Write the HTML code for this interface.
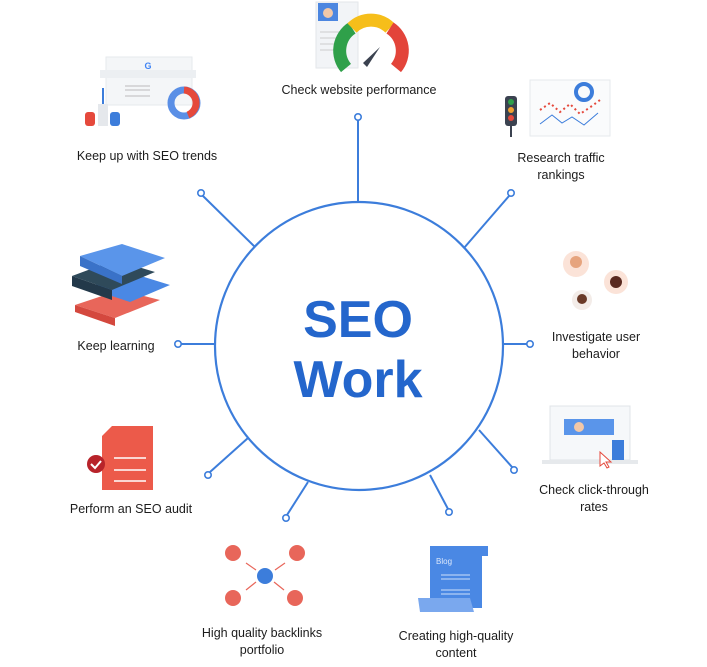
<!DOCTYPE html>
<html><head><meta charset="utf-8"><style>
body{margin:0;width:707px;height:667px;background:#fff;overflow:hidden;font-family:"Liberation Sans",sans-serif}
svg{position:absolute;left:0;top:0}
.t{font-size:12.5px;fill:#1c1c1c;text-anchor:middle}
</style></head><body>
<svg width="707" height="667" viewBox="0 0 707 667">
<g stroke="#3c7ddb" stroke-width="2" fill="none">
<circle cx="359" cy="346" r="144" stroke-width="2.2"/>
<line x1="358" y1="120" x2="358" y2="202"/>
<line x1="203" y1="196" x2="255" y2="247"/>
<line x1="509" y1="196" x2="464" y2="248"/>
<line x1="181" y1="344" x2="215" y2="344"/>
<line x1="503" y1="344" x2="527" y2="344"/>
<line x1="210" y1="472" x2="248" y2="438"/>
<line x1="512" y1="467" x2="479" y2="430"/>
<line x1="287" y1="515" x2="308" y2="482"/>
<line x1="448" y1="509" x2="430" y2="475"/>
</g>
<g stroke="#3c7ddb" stroke-width="1.6" fill="#fff">
<circle cx="358" cy="117" r="3.2"/><circle cx="201" cy="193" r="3.2"/><circle cx="511" cy="193" r="3.2"/>
<circle cx="178" cy="344" r="3.2"/><circle cx="530" cy="344" r="3.2"/><circle cx="208" cy="475" r="3.2"/>
<circle cx="514" cy="470" r="3.2"/><circle cx="286" cy="518" r="3.2"/><circle cx="449" cy="512" r="3.2"/>
</g>
<text x="358" y="337" text-anchor="middle" font-size="52" font-weight="bold" fill="#2466cc">SEO</text>
<text x="358" y="397" text-anchor="middle" font-size="52" font-weight="bold" fill="#2466cc">Work</text>

<!-- top gauge -->
<rect x="316" y="2" width="42" height="66" fill="#f2f4f7" stroke="#e3e6ea"/>
<rect x="318" y="3" width="20" height="18" fill="#4c86e0"/>
<circle cx="328" cy="13" r="5" fill="#f2c8a8"/>
<g stroke="#ccc"><line x1="320" y1="32" x2="340" y2="32"/><line x1="320" y1="38" x2="340" y2="38"/><line x1="320" y1="44" x2="340" y2="44"/><line x1="320" y1="50" x2="336" y2="50"/></g>
<path d="M346 68 A27 27 0 0 1 352 28" stroke="#2fa04a" stroke-width="13" fill="none"/>
<path d="M352 28 A27 27 0 0 1 390 28" stroke="#f6be1a" stroke-width="13" fill="none"/>
<path d="M390 28 A27 27 0 0 1 396 68" stroke="#e3443a" stroke-width="13" fill="none"/>
<path d="M363 63 L380 47 L367 67 Z" fill="#3b4250"/>
<text class="t" x="359" y="94">Check website performance</text>

<!-- SEO trends -->
<rect x="106" y="57" width="86" height="48" fill="#f4f6f8" stroke="#e6e9ec"/>
<rect x="100" y="70" width="96" height="8" fill="#eceff2"/>
<text x="148" y="69" font-size="9" font-weight="bold" fill="#4285f4" text-anchor="middle">G</text>
<g stroke="#bbb"><line x1="125" y1="86" x2="150" y2="86"/><line x1="125" y1="90" x2="150" y2="90"/><line x1="125" y1="96" x2="150" y2="96"/></g>
<circle cx="184" cy="103" r="13" fill="none" stroke="#5a8fe6" stroke-width="7"/>
<path d="M184 90 A13 13 0 0 1 188 115" stroke="#e5493c" stroke-width="7" fill="none"/>
<rect x="85" y="112" width="10" height="14" rx="3" fill="#e5493c"/>
<rect x="98" y="104" width="10" height="22" fill="#e5e8ec"/>
<rect x="110" y="112" width="10" height="14" rx="3" fill="#3c7ddb"/>
<line x1="103" y1="104" x2="103" y2="88" stroke="#3c7ddb" stroke-width="2"/>
<text class="t" x="147" y="160">Keep up with SEO trends</text>

<!-- traffic -->
<rect x="530" y="80" width="80" height="56" fill="#fafbfc" stroke="#e6e9ec"/>
<rect x="505" y="96" width="12" height="30" rx="3" fill="#3b4250"/>
<circle cx="511" cy="102" r="3" fill="#2fa04a"/><circle cx="511" cy="110" r="3" fill="#f0a030"/><circle cx="511" cy="118" r="3" fill="#e5493c"/>
<line x1="511" y1="126" x2="511" y2="137" stroke="#3b4250" stroke-width="2"/>
<circle cx="584" cy="92" r="8" fill="none" stroke="#3c7ddb" stroke-width="4"/>
<polyline points="540,110 550,103 560,112 570,104 580,114 592,106 600,100" stroke="#e5493c" stroke-width="2" fill="none" stroke-dasharray="2 3"/>
<polyline points="540,124 552,115 562,123 572,117 584,125 598,113" stroke="#3c7ddb" fill="none"/>
<text class="t" x="561" y="162">Research traffic</text>
<text class="t" x="561" y="179">rankings</text>

<!-- books -->
<path d="M75 305 L120 290 L160 300 L115 318 Z" fill="#e8665a"/>
<path d="M75 305 L115 318 L115 326 L75 312 Z" fill="#d4483e"/>
<path d="M88 288 L128 272 L170 285 L130 302 Z" fill="#4a88e4"/>
<path d="M72 276 L115 260 L155 272 L112 290 Z" fill="#2f4a5a"/>
<path d="M72 276 L112 290 L112 300 L72 286 Z" fill="#23394a"/>
<path d="M80 256 L122 244 L165 258 L122 276 Z" fill="#5a95ea"/>
<path d="M80 256 L122 276 L122 284 L80 266 Z" fill="#3a72c8"/>
<text class="t" x="116" y="350">Keep learning</text>

<!-- users -->
<circle cx="576" cy="264" r="13" fill="#fbe3d8"/><circle cx="576" cy="262" r="6" fill="#e6a47e"/>
<circle cx="616" cy="282" r="12" fill="#fbe3d8"/><circle cx="616" cy="282" r="6" fill="#5a2a20"/>
<circle cx="582" cy="300" r="10" fill="#f3ece8"/><circle cx="582" cy="299" r="5" fill="#6a3a28"/>
<text class="t" x="596" y="341">Investigate user</text>
<text class="t" x="596" y="358">behavior</text>

<!-- audit -->
<path d="M112 426 L153 426 L153 490 L102 490 L102 436 Z" fill="#ec5a4a"/>
<circle cx="96" cy="464" r="9" fill="#b8232a"/>
<path d="M91 464 l4 4 l6 -7" stroke="#fff" stroke-width="2" fill="none"/>
<g stroke="#fff" stroke-width="1.5"><line x1="114" y1="458" x2="146" y2="458"/><line x1="114" y1="470" x2="146" y2="470"/><line x1="114" y1="481" x2="146" y2="481"/></g>
<text class="t" x="131" y="513">Perform an SEO audit</text>

<!-- CTR -->
<rect x="550" y="406" width="80" height="54" fill="#f6f8fa" stroke="#e0e4e8"/>
<rect x="542" y="460" width="96" height="4" fill="#e6e9ec"/>
<rect x="564" y="419" width="50" height="16" fill="#5a95ea"/>
<circle cx="579" cy="427" r="5" fill="#f2c8a8"/>
<rect x="612" y="440" width="12" height="20" fill="#3c7ddb"/>
<path d="M600 452 l0 14 l4 -3 l3 5 l2 -1 l-3 -5 l5 0 z" fill="#fff" stroke="#e5493c"/>
<text class="t" x="594" y="494">Check click-through</text>
<text class="t" x="594" y="511">rates</text>

<!-- backlinks -->
<g fill="#e8665a"><circle cx="233" cy="553" r="8"/><circle cx="297" cy="553" r="8"/><circle cx="233" cy="598" r="8"/><circle cx="295" cy="598" r="8"/></g>
<circle cx="265" cy="576" r="8" fill="#3c7ddb"/>
<g stroke="#e8665a" stroke-width="1.2"><line x1="246" y1="563" x2="256" y2="570"/><line x1="285" y1="563" x2="275" y2="570"/><line x1="246" y1="590" x2="256" y2="582"/><line x1="284" y1="590" x2="274" y2="582"/></g>
<text class="t" x="262" y="637">High quality backlinks</text>
<text class="t" x="262" y="654">portfolio</text>

<!-- blog -->
<path d="M430 546 L488 546 L488 556 L482 556 L482 608 L420 608 L420 598 L430 598 Z" fill="#4a88e4"/>
<path d="M418 598 L470 598 L474 612 L420 612 Z" fill="#7aa8ee"/>
<text x="436" y="564" font-size="8" fill="#dce8fb">Blog</text>
<g stroke="#cfe0fa"><line x1="441" y1="575" x2="470" y2="575"/><line x1="441" y1="579" x2="470" y2="579"/><line x1="441" y1="590" x2="470" y2="590"/><line x1="441" y1="594" x2="470" y2="594"/></g>
<text class="t" x="456" y="640">Creating high-quality</text>
<text class="t" x="456" y="657">content</text>
</svg>
</body></html>
